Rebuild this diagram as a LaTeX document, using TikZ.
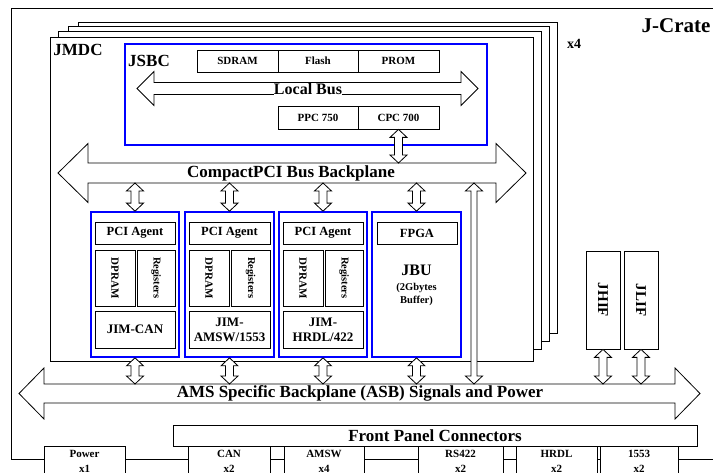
\documentclass[tikz,border=0pt]{standalone}
\usepackage{fontspec}
\setmainfont{Liberation Serif}
\usetikzlibrary{calc,fit}
\definecolor{jblue}{RGB}{0,0,255}
\tikzset{
  ln/.style={line width=0.8pt},
  plainbox/.style={draw, fill=white, line width=0.8pt, inner sep=0pt},
  bluebox/.style={draw=jblue, fill=white, line width=1.7pt, inner sep=0pt},
  lbl/.style={inner sep=0pt, align=center},
  fsz/.style 2 args={font=\bfseries\fontsize{#1}{#2}\selectfont},
  arrline/.style={draw, fill=white, line width=0.8pt, line join=miter},
}
% box from corners (x1,y1)-(x2,y2), y measured downwards
\newcommand\bx[8]{%
  \path (#2,-#3) coordinate (#1-a) (#4,-#5) coordinate (#1-b);
  \node[#6, fit=(#1-a)(#1-b)] (#1) {};
  \node[lbl,#7] (#1-t) at (#1.center) {#8};}
% horizontal double block arrow: left tip, right tip, centre y, shaft half, head half, head length
\newcommand\hdarr[6]{%
  \draw[arrline] (#1,-#3) -- ({#1+#6},{-#3+#5}) -- ({#1+#6},{-#3+#4}) -- ({#2-#6},{-#3+#4})
   -- ({#2-#6},{-#3+#5}) -- (#2,-#3) -- ({#2-#6},{-#3-#5}) -- ({#2-#6},{-#3-#4})
   -- ({#1+#6},{-#3-#4}) -- ({#1+#6},{-#3-#5}) -- cycle;}
% vertical double block arrow: x from #1, top y from #2, bottom y from #3, shaft half #4, head half #5
\newcommand\vdarr[5]{%
  \draw[arrline] let \p1=#1, \p2=#2, \p3=#3 in
   (\x1,\y2) -- (\x1+#5pt,\y2-8pt) -- (\x1+#4pt,\y2-8pt) -- (\x1+#4pt,\y3+8pt)
   -- (\x1+#5pt,\y3+8pt) -- (\x1,\y3) -- (\x1-#5pt,\y3+8pt) -- (\x1-#4pt,\y3+8pt)
   -- (\x1-#4pt,\y2-8pt) -- (\x1-#5pt,\y2-8pt) -- cycle;}
\begin{document}
\begin{tikzpicture}[x=1pt,y=1pt]
\useasboundingbox (0,0) rectangle (713,-473);
\clip (0,0) rectangle (713,-473);
\fill[white] (0,0) rectangle (713,-473);

% J-Crate
\bx{crate}{11}{8}{730}{459}{plainbox}{}{}
\node[lbl,fsz={21}{24}] (jcrate) at (676,-26) {J-Crate};

% JMDC stack
\bx{jm4}{78}{22}{557}{333}{plainbox}{}{}
\bx{jm3}{68}{26}{549}{341}{plainbox}{}{}
\bx{jm2}{58}{31}{541}{349}{plainbox}{}{}
\bx{jm1}{50}{37}{533}{361}{plainbox}{}{}
\node[lbl,fsz={17}{20}] (jmdc) at (78,-50) {JMDC};
\node[lbl,fsz={14}{16}] (x4) at (574,-44) {x4};

% JSBC
\bx{jsbc}{125}{44}{487}{145}{bluebox}{}{}
\node[lbl,fsz={17}{20}] (jsbcl) at (149,-61) {JSBC};
\bx{sdram}{197}{50}{278}{72}{plainbox}{fsz={11}{13}}{SDRAM}
\bx{flash}{278}{50}{358}{72}{plainbox}{fsz={11}{13}}{Flash}
\bx{prom}{358}{50}{439}{72}{plainbox}{fsz={11}{13}}{PROM}
\bx{ppc}{278}{106}{358}{129}{plainbox}{fsz={11}{13}}{PPC 750}
\bx{cpc}{358}{106}{439}{129}{plainbox}{fsz={11}{13}}{CPC 700}

% Local bus
\hdarr{137}{478}{88.5}{6}{17}{17}
\node[lbl,fsz={16}{18},fill=white,inner ysep=0.3pt] (lbus) at (308,-89) {Local Bus};

% CompactPCI bus
\hdarr{58}{526}{173}{10}{29.5}{30}
\coordinate (pcitop) at (0,-163);
\coordinate (pcibot) at (0,-183);
\node[lbl,fsz={17}{20}] (pcil) at (291,-173) {CompactPCI Bus Backplane};

% JIM boards
\bx{jcan}{91}{212}{179}{357}{bluebox}{}{}
\bx{jcanp}{95}{222}{175}{244}{plainbox}{fsz={12.5}{14}}{PCI Agent}
\bx{jcand}{95}{250}{135}{306}{plainbox}{fsz={11}{13},rotate=-90}{DPRAM}
\bx{jcanr}{137}{250}{175}{306}{plainbox}{fsz={10.5}{13},rotate=-90}{Registers}
\bx{jcann}{95}{311}{175}{348}{plainbox}{fsz={13}{15}}{JIM-CAN}

\bx{jam}{185}{212}{274}{357}{bluebox}{}{}
\bx{jamp}{189}{222}{270}{244}{plainbox}{fsz={12.5}{14}}{PCI Agent}
\bx{jamd}{189}{250}{229}{306}{plainbox}{fsz={11}{13},rotate=-90}{DPRAM}
\bx{jamr}{231}{250}{270}{306}{plainbox}{fsz={10.5}{13},rotate=-90}{Registers}
\bx{jamn}{189}{311}{270}{348}{plainbox}{fsz={13}{15}}{JIM-\\AMSW/1553}

\bx{jhr}{279}{212}{367}{357}{bluebox}{}{}
\bx{jhrp}{283}{222}{363}{244}{plainbox}{fsz={12.5}{14}}{PCI Agent}
\bx{jhrd}{283}{250}{323}{306}{plainbox}{fsz={11}{13},rotate=-90}{DPRAM}
\bx{jhrr}{325}{250}{363}{306}{plainbox}{fsz={10.5}{13},rotate=-90}{Registers}
\bx{jhrn}{283}{311}{363}{348}{plainbox}{fsz={13}{15}}{JIM-\\HRDL/422}

\bx{jbu}{372}{212}{461}{357}{bluebox}{}{}
\bx{fpga}{377}{222}{457}{244}{plainbox}{fsz={12.5}{14}}{FPGA}
\node[lbl,fsz={16}{18}] (jbul) at (416.5,-270) {JBU};
\node[lbl,fsz={10.5}{13}] (jbus) at (416.5,-294.5) {(2Gbytes\\Buffer)};

% JHIF / JLIF
\bx{jhif}{586}{251}{620}{349}{plainbox}{fsz={15}{17},rotate=-90}{JHIF}
\bx{jlif}{624}{251}{658}{349}{plainbox}{fsz={15}{17},rotate=-90}{JLIF}

% ASB
\hdarr{19}{700}{393.5}{9.5}{25.5}{25}
\coordinate (asbtop) at (0,-384);
\node[lbl,fsz={17}{20}] (asbl) at (360,-393) {AMS Specific Backplane (ASB) Signals and Power};

% vertical connectors
\vdarr{(cpc.south)}{(cpc.south)}{(pcitop)}{4}{8.5}
\foreach \b in {jcan,jam,jhr,jbu}{
  \vdarr{(\b.north)}{(pcibot)}{(\b.north)}{4}{8.5}
  \vdarr{(\b.south)}{(\b.south)}{(asbtop)}{4}{8.5}
}
\coordinate (lngx) at (474,-183);
\vdarr{(lngx)}{(pcibot)}{(asbtop)}{3}{8.5}
\vdarr{(jhif.south)}{(jhif.south)}{(asbtop)}{4}{8.5}
\vdarr{(jlif.south)}{(jlif.south)}{(asbtop)}{4}{8.5}

% Front panel
\bx{fpc}{173}{425}{697}{446}{plainbox}{fsz={17}{20}}{Front Panel Connectors}
\bx{cpow}{44}{446}{125}{476}{plainbox}{fsz={11}{15}}{Power\\x1}
\bx{ccan}{188}{446}{270}{476}{plainbox}{fsz={11}{15}}{CAN\\x2}
\bx{camsw}{284}{446}{364}{476}{plainbox}{fsz={11}{15}}{AMSW\\x4}
\bx{crs}{418}{446}{503}{476}{plainbox}{fsz={11}{15}}{RS422\\x2}
\bx{chrdl}{516}{446}{597}{476}{plainbox}{fsz={11}{15}}{HRDL\\x2}
\bx{c1553}{600}{446}{678}{476}{plainbox}{fsz={11}{15}}{1553\\x2}
\end{tikzpicture}
\end{document}
